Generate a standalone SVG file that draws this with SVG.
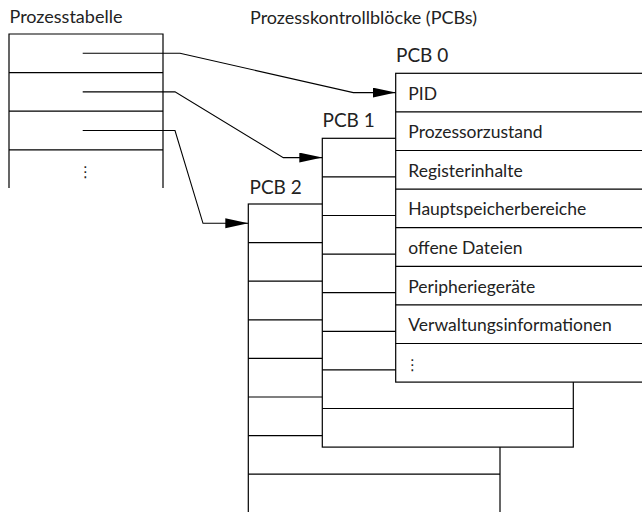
<svg xmlns="http://www.w3.org/2000/svg" width="642" height="512" viewBox="0 0 642 512">
  <style>
    .title { font-family: Lato, "Liberation Sans", sans-serif; font-size: 18px; fill: #222; }
    .pcb { font-family: Lato, "Liberation Sans", sans-serif; font-size: 19px; fill: #222; }
    .lbl { font-family: Lato, "Liberation Sans", sans-serif; font-size: 17.5px; fill: #222; }
    .dots { font-family: "DejaVu Sans", sans-serif; font-size: 15px; fill: #222; }
    .box { fill: #fff; stroke: #000; stroke-width: 1.2; }
    .ln { fill: none; stroke: #000; stroke-width: 1.2; }
    .conn { fill: none; stroke: #000; stroke-width: 1.1; }
  </style>
  <defs>
    <marker id="arrow" markerUnits="userSpaceOnUse" markerWidth="24" markerHeight="11" refX="23" refY="5" orient="auto">
      <path d="M0,0 L23,5 L0,10 z" fill="#000"/>
    </marker>
  </defs>

  <rect width="642" height="512" fill="#fff"/>

  <!-- titles -->
  <text class="title" x="9.5" y="22.5">Prozesstabelle</text>
  <text class="title" x="250" y="23.5">Prozesskontrollblöcke (PCBs)</text>

  <!-- process table, open at the bottom -->
  <g id="prozesstabelle">
    <path class="ln" d="M9,188 V34 H163 V188 M9,72.6 H163 M9,111.2 H163 M9,149.8 H163"/>
    <text class="dots" x="78" y="177">⋮</text>
  </g>

  <!-- PCB 2 (backmost) -->
  <g id="pcb2">
    <text class="pcb" x="249.5" y="193.5">PCB 2</text>
    <rect class="box" x="248.3" y="204" width="251.7" height="308.8"/>
    <path class="ln" d="M248.3,242.6 H500 M248.3,281.2 H500 M248.3,319.8 H500 M248.3,358.4 H500 M248.3,397 H500 M248.3,435.6 H500 M248.3,474.2 H500"/>
  </g>

  <!-- PCB 1 -->
  <g id="pcb1">
    <text class="pcb" x="322.5" y="127">PCB 1</text>
    <rect class="box" x="322.3" y="138.3" width="251" height="308.8"/>
    <path class="ln" d="M322.3,176.9 H573.3 M322.3,215.5 H573.3 M322.3,254.1 H573.3 M322.3,292.7 H573.3 M322.3,331.3 H573.3 M322.3,369.9 H573.3 M322.3,408.5 H573.3"/>
  </g>

  <!-- PCB 0 (front), runs past the right edge -->
  <g id="pcb0">
    <text class="pcb" x="396" y="61.5">PCB 0</text>
    <rect class="box" x="395.7" y="73.3" width="260" height="308.8"/>
    <path class="ln" d="M395.7,111.9 H660 M395.7,150.5 H660 M395.7,189.1 H660 M395.7,227.7 H660 M395.7,266.3 H660 M395.7,304.9 H660 M395.7,343.5 H660"/>
    <text class="lbl" x="408.3" y="99.6">PID</text>
    <text class="lbl" x="408.3" y="138.2">Prozessorzustand</text>
    <text class="lbl" x="408.3" y="176.8">Registerinhalte</text>
    <text class="lbl" x="408.3" y="215.4">Hauptspeicherbereiche</text>
    <text class="lbl" x="408.3" y="254">offene Dateien</text>
    <text class="lbl" x="408.3" y="292.6">Peripheriegeräte</text>
    <text class="lbl" x="408.3" y="331.2">Verwaltungsinformationen</text>
    <text class="dots" x="405" y="370">⋮</text>
  </g>

  <!-- pointers from table entries to the PCBs -->
  <g id="connectors">
    <polyline class="conn" points="82.7,53.3 180,53.3 353.3,92.6 395.7,92.6" marker-end="url(#arrow)"/>
    <polyline class="conn" points="82.7,91.9 175,91.9 283.3,157.6 322.3,157.6" marker-end="url(#arrow)"/>
    <polyline class="conn" points="82.7,130.5 175,130.5 203,223.3 248.3,223.3" marker-end="url(#arrow)"/>
  </g>
</svg>
